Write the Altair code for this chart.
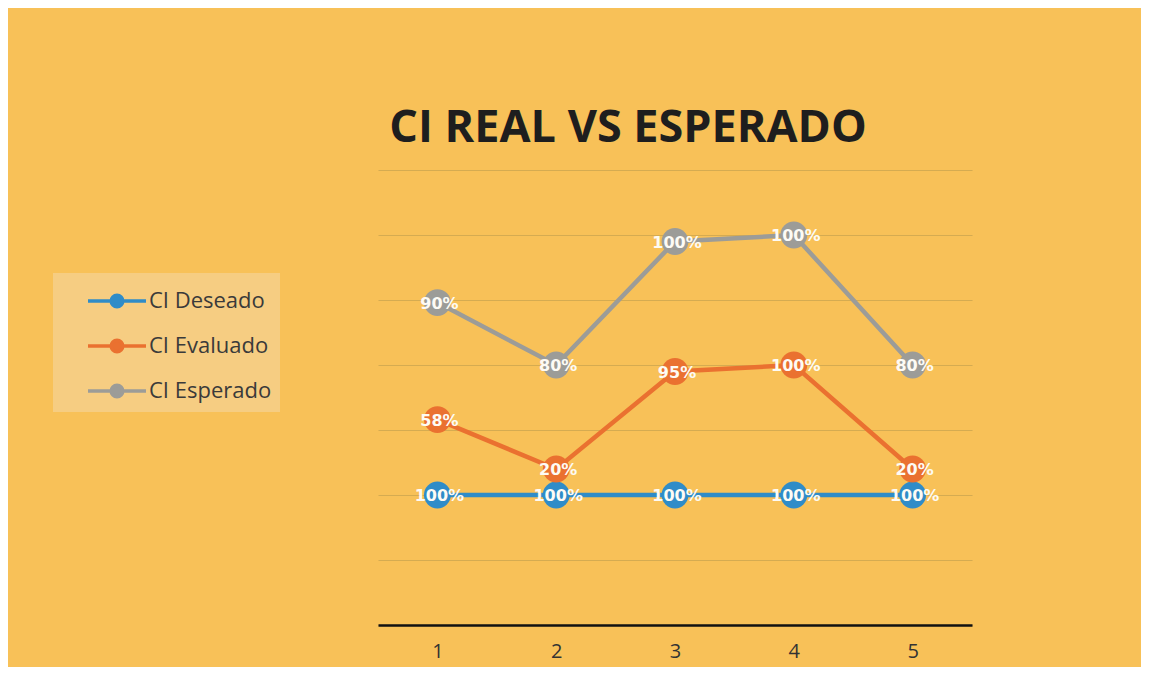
import altair as alt
import pandas as pd

categories = ["1", "2", "3", "4", "5"]
series_names = ["CI Deseado", "CI Evaluado", "CI Esperado"]
ci_deseado = [1.00, 1.00, 1.00, 1.00, 1.00]
ci_evaluado = [0.58, 0.20, 0.95, 1.00, 0.20]
ci_esperado = [0.90, 0.80, 1.00, 1.00, 0.80]
colors = ["#2F8CC8", "#EA7130", "#9C9C98"]

rows = []
for order, (name, vals) in enumerate(zip(series_names, [ci_deseado, ci_evaluado, ci_esperado])):
    for c, v in zip(categories, vals):
        rows.append({"x": c, "serie": name, "value": v, "ord": order})
df = pd.DataFrame(rows)

color = alt.Color(
    "serie:N",
    scale=alt.Scale(domain=series_names, range=colors),
    legend=alt.Legend(
        title=None,
        orient="none",
        legendX=-325,
        legendY=103,
        fillColor="#F6CD82",
        padding=8,
        symbolType="M-1.6,0H1.6M0.32,0A0.32,0.32 0 1,1 -0.32,0A0.32,0.32 0 1,1 0.32,0Z",
        symbolSize=1314,
        symbolStrokeWidth=3.5,
        labelFont="Open Sans",
        labelFontSize=22,
        labelColor="#3a3a3a",
        labelExpr="datum.label + '\u2003\u2003'",
        labelLimit=300,
        rowPadding=12,
        symbolOffset=36,
        labelOffset=12,
    ),
)

base = alt.Chart(df).transform_stack(
    stack="value", groupby=["x"], as_=["y0", "y1"], sort=[alt.SortField("ord")]
).encode(
    x=alt.X("x:O", sort=categories, axis=alt.Axis(
        title=None, labelAngle=0, labelFont="Open Sans", labelFontSize=20, labelColor="#333333",
        ticks=False, domainColor="#111111", domainWidth=2.5, labelPadding=16, grid=False)),
    y=alt.Y("y1:Q", scale=alt.Scale(domain=[0, 3.5], nice=False), axis=alt.Axis(
        title=None, labels=False, ticks=False, domain=False, values=[0, 0.5, 1, 1.5, 2, 2.5, 3, 3.5],
        gridColor="#A08A48", gridOpacity=0.4, gridWidth=1.2)),
    color=color,
    detail="serie:N",
)

lines = base.mark_line(strokeWidth=4.5)
points = base.mark_point(filled=True, size=720, opacity=1, shape="circle")
labels = base.mark_text(font="DejaVu Sans", fontWeight="bold", fontSize=16, color="white", dx=2, dy=1).encode(
    text=alt.Text("value:Q", format=".0%"), color=alt.value("#FDFBF5")
)

chart = alt.layer(lines, points, labels).properties(
    width=594,
    height=455,
    autosize=alt.AutoSizeParams(type="none"),
    padding={"left": 370, "top": 162, "right": 169, "bottom": 42},
    background="#F8C158",
    title=alt.TitleParams(
        "CI REAL VS ESPERADO", font="Open Sans", fontSize=45, fontWeight="bold", color="#1e1e1e",
        anchor="middle", dx=-47, offset=19,
    ),
).configure_view(stroke=None)

chart.save("out.html", embed_options={"renderer": "svg", "actions": False})
